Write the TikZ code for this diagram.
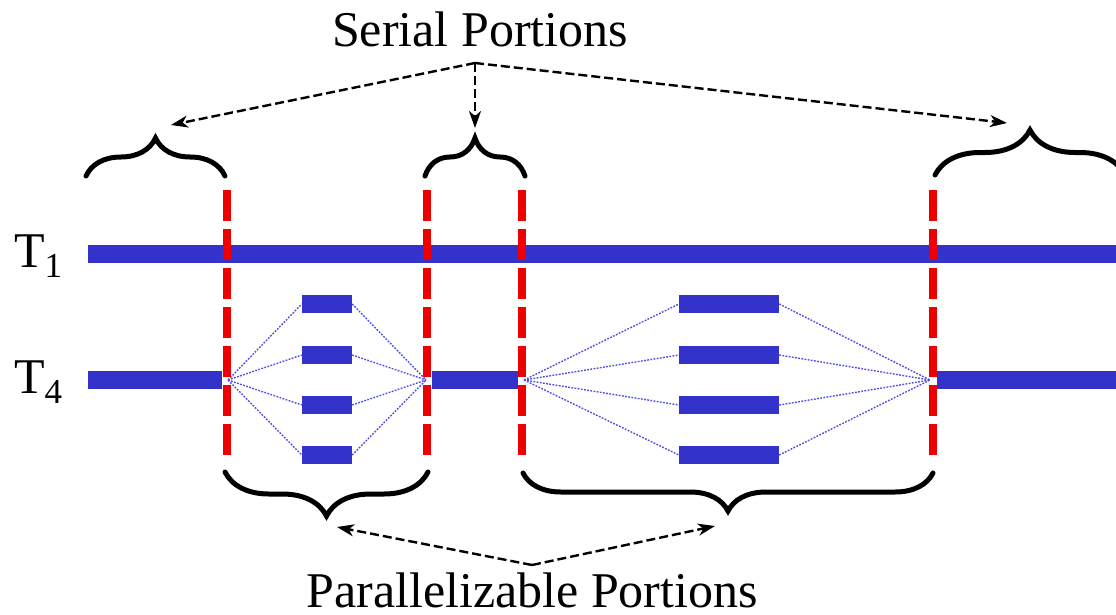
\documentclass[tikz,border=0pt]{standalone}
\usepackage{fontspec}
\setmainfont{Liberation Serif}
\usepackage{xcolor}
\usepackage{tikz}
\usetikzlibrary{arrows.meta,positioning,calc,decorations.pathreplacing}

\definecolor{barblue}{RGB}{51,51,204}
\definecolor{cutred}{RGB}{238,0,0}
\definecolor{linkblue}{RGB}{80,80,228}

\tikzset{
  bar/.style={line width=18pt, barblue},
  task/.style={rectangle, fill=barblue, inner sep=0pt, minimum height=18pt},
  cut/.style={cutred, line width=8pt, dash pattern=on 31pt off 8pt},
  link/.style={linkblue, line width=1.4pt, dash pattern=on 1.8pt off 1.4pt},
  curly/.style={line width=5pt, line cap=round, decorate, decoration={brace, amplitude=#1}},
  pointer/.style={line width=2.4pt, dash pattern=on 9pt off 4pt, -{Stealth[length=17pt,width=12pt,inset=5pt]}},
  bigtext/.style={font=\fontsize{50}{60}\selectfont, inner sep=0pt},
}

\begin{document}
\begin{tikzpicture}[x=1pt, y=-1pt]
    \useasboundingbox (0,0) rectangle (1116,614);

    % 线程标签
    \node[bigtext, anchor=base west] (t1) at (14,267) {T\raisebox{-10pt}{\fontsize{35}{40}\selectfont 1}};
    \node[bigtext, anchor=base west] (t4) at (14,393) {T\raisebox{-10pt}{\fontsize{35}{40}\selectfont 4}};

    % 主线程
    \draw[bar] (88,254) -- (1116,254);
    \draw[bar] (88,380) -- (222,380);
    \draw[bar] (432,380) -- (518,380);
    \draw[bar] (937,380) -- (1116,380);

    % 分叉与汇合点
    \coordinate (forkA) at (228,380);
    \coordinate (joinA) at (426,380);
    \coordinate (forkB) at (524,380);
    \coordinate (joinB) at (930,380);

    % 并行任务
    \foreach \i/\y in {1/304, 2/355, 3/405, 4/455} {
        \node[task, minimum width=50pt] (a\i) at (327,\y) {};
        \node[task, minimum width=100pt] (b\i) at (729,\y) {};
        \draw[link] (forkA) -- (a\i.west);
        \draw[link] (a\i.east) -- (joinA);
        \draw[link] (forkB) -- (b\i.west);
        \draw[link] (b\i.east) -- (joinB);
    }

    % 分界线
    \foreach \x in {227, 427, 522, 933}
        \draw[cut] (\x,190) -- (\x,455);

    % 串行部分
    \draw[curly=38] (86,176) -- (225,176);
    \draw[curly=38] (425,176) -- (525,176);
    \draw[curly=45] (935,175) -- (1125,175);

    % 可并行部分
    \draw[curly=44] (428,472) -- (225,472);
    \draw[curly=38] (933,473) -- (523,473);

    % 说明文字
    \node[bigtext, anchor=base] (serial) at (480,46) {Serial Portions};
    \node[bigtext, anchor=base] (parallel) at (532,607) {Parallelizable Portions};

    % 指示箭头
    \coordinate (sj) at (475,63);
    \coordinate (s1) at (171,125);
    \coordinate (s2) at (475,128);
    \coordinate (s3) at (1007,123);
    \draw[pointer] (sj) -- (s1);
    \draw[pointer] (sj) -- (s2);
    \draw[pointer] (sj) -- (s3);

    \coordinate (pj) at (532,565);
    \coordinate (p1) at (337,527);
    \coordinate (p2) at (715,526);
    \draw[pointer] (pj) -- (p1);
    \draw[pointer] (pj) -- (p2);
\end{tikzpicture}
\end{document}
